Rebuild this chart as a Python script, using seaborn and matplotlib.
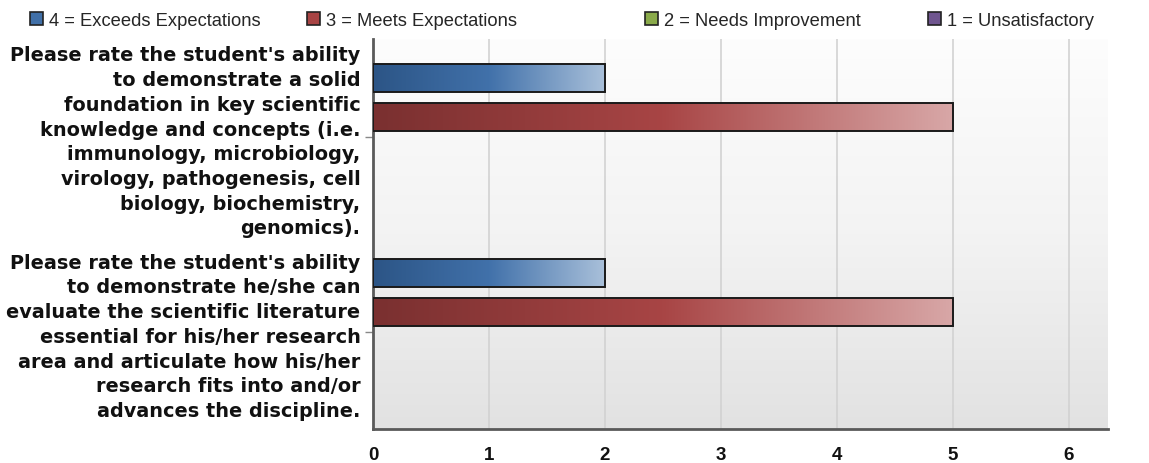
import numpy as np
import pandas as pd
import seaborn as sns
import matplotlib.pyplot as plt
from matplotlib.colors import LinearSegmentedColormap
from matplotlib.patches import Rectangle

# ---- data -------------------------------------------------------------
questions = [
    "Please rate the student's ability\nto demonstrate a solid\nfoundation in key scientific\n"
    "knowledge and concepts (i.e.\nimmunology, microbiology,\nvirology, pathogenesis, cell\n"
    "biology, biochemistry,\ngenomics).",
    "Please rate the student's ability\nto demonstrate he/she can\nevaluate the scientific literature\n"
    "essential for his/her research\narea and articulate how his/her\nresearch fits into and/or\n"
    "advances the discipline.",
]
ratings = [
    "4 = Exceeds Expectations",
    "3 = Meets Expectations",
    "2 = Needs Improvement",
    "1 = Unsatisfactory",
]
counts_q1 = [2, 5, 0, 0]
counts_q2 = [2, 5, 0, 0]
x_ticks = [0, 1, 2, 3, 4, 5, 6]

# ---- styling ----------------------------------------------------------
base_colors = ["#4170a8", "#a84444", "#8aaa4a", "#6f558f"]
ramps = [
    ["#2c5586", "#4171aa", "#a9c0da"],
    ["#7a3030", "#a84545", "#d8a7a7"],
    ["#5d7a2e", "#8aaa4a", "#c8dba6"],
    ["#4a3766", "#6f558f", "#bcaed0"],
]
legend_x_px = [30, 307, 645, 928]

sns.set_theme(style="white")
plt.rcParams["font.family"] = ["Liberation Sans", "DejaVu Sans"]

df = pd.DataFrame({
    "question": np.repeat(questions, len(ratings)),
    "rating": ratings * len(questions),
    "count": counts_q1 + counts_q2,
})

fig = plt.figure(figsize=(11.49, 4.64), dpi=100)
ax = fig.add_axes([373 / 1149, 1 - 430 / 464, (1108 - 373) / 1149, (430 - 40) / 464])

sns.barplot(
    data=df, y="question", x="count", hue="rating", hue_order=ratings,
    order=questions, orient="h", palette=base_colors, width=0.8, gap=0.3,
    edgecolor="#1a1a1a", linewidth=1.4, legend=False, ax=ax, zorder=3,
)

ax.set_xlim(0, 6.34)
ax.set_ylim(1.5, -0.5)

# vertical background gradient
bg = np.linspace(0, 1, 256).reshape(-1, 1)
bg_cmap = LinearSegmentedColormap.from_list("bg", ["#fdfdfd", "#f3f3f3", "#e2e2e2"])
ax.imshow(bg, cmap=bg_cmap, aspect="auto", extent=[0, 1, 0, 1],
          transform=ax.transAxes, zorder=0, origin="upper")

# horizontal colour ramps inside each bar
grad = np.linspace(0, 1, 256).reshape(1, -1)
for i, container in enumerate(ax.containers):
    cmap = LinearSegmentedColormap.from_list(f"r{i}", ramps[i])
    for patch in container:
        w = patch.get_width()
        if w <= 0:
            patch.set_visible(False)
            continue
        x0, y0 = patch.get_x(), patch.get_y()
        h = patch.get_height()
        im = ax.imshow(grad, cmap=cmap, aspect="auto",
                       extent=[x0, x0 + w, y0 + h, y0], zorder=3.5,
                       interpolation="bicubic")
        im.set_clip_path(patch)
        patch.set_facecolor("none")
        patch.set_zorder(4)

ax.set_xlim(0, 6.34)
ax.set_ylim(1.5, -0.5)

ax.set_xticks(x_ticks)
ax.set_xticklabels([str(t) for t in x_ticks], fontweight="bold", fontsize=13.5,
                   family=["Liberation Sans Narrow", "Liberation Sans"])
ax.grid(axis="x", color="#d2d2d2", linewidth=1.2, zorder=1)
ax.set_axisbelow(True)
ax.set_xlabel("")
ax.set_ylabel("")
for lab in ax.get_yticklabels():
    lab.set_family(["DejaVu Sans"])
    lab.set_fontweight("bold")
    lab.set_fontsize(13.9)
    lab.set_color("#111111")
    lab.set_linespacing(1.38)

for side in ["top", "right"]:
    ax.spines[side].set_visible(False)
for side in ["left", "bottom"]:
    ax.spines[side].set_color("#5a5a5a")
    ax.spines[side].set_linewidth(2)
ax.tick_params(axis="x", length=7, width=1, color="#888888", pad=5, labelcolor="#111111")
ax.tick_params(axis="y", length=6, width=1, color="#888888", pad=3, left=True)

# legend across the top, one entry per slot
for color, label, xpx in zip(base_colors, ratings, legend_x_px):
    handle = Rectangle((0, 0), 1, 1, facecolor=color, edgecolor="#222222", linewidth=1.2)
    fig.legend([handle], [label], loc="center left",
               bbox_to_anchor=(xpx / 1149, 1 - 21 / 464),
               frameon=False, fontsize=13.2, handlelength=0.7, handleheight=0.7,
               handletextpad=0.35, borderaxespad=0, borderpad=0)

fig.savefig("out.png", dpi=100)
